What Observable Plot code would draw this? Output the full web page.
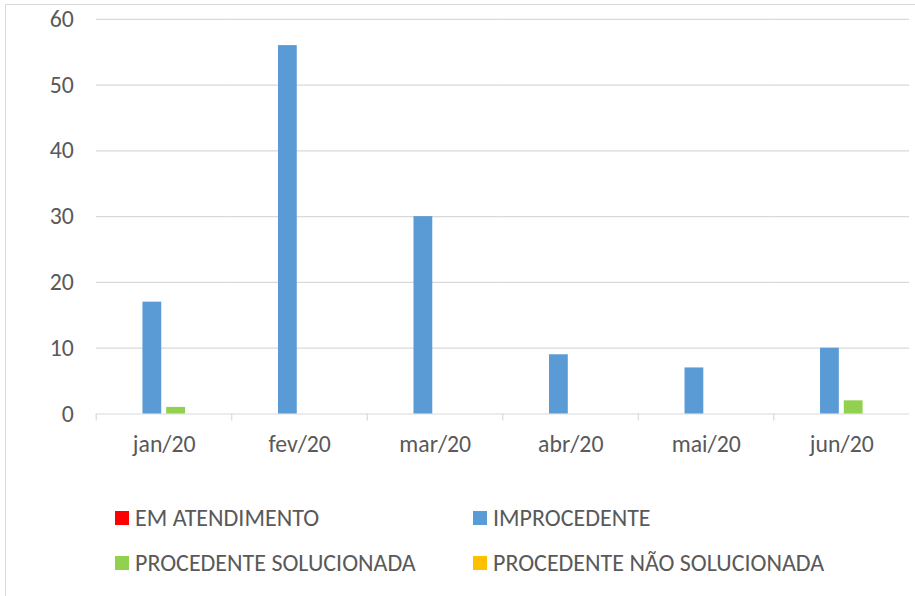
<!DOCTYPE html>
<html>
<head>
<meta charset="utf-8">
<script src="https://cdn.jsdelivr.net/npm/d3@7"></script>
<script src="https://cdn.jsdelivr.net/npm/@observablehq/plot@0.6"></script>
<style>
  html, body { margin: 0; padding: 0; background: #fff; overflow: hidden; width: 915px; height: 596px; }
  body { position: relative; font-family: Carlito, "Liberation Sans Narrow", sans-serif; }
  #frame { position: absolute; left: 5px; top: 4px; width: 1000px; height: 700px; border: 1px solid #d9d9d9; }
  #chart { position: absolute; left: 0; top: 0; }
  .leg { position: absolute; display: flex; align-items: center; font-size: 24px; color: #595959; white-space: nowrap; line-height: 1; }
  .sw { width: 14px; height: 14px; margin-right: 6px; flex: none; }
</style>
</head>
<body>
<div id="frame"></div>
<div id="chart"></div>
<div id="legend"></div>
<script>
const months = ["jan/20", "fev/20", "mar/20", "abr/20", "mai/20", "jun/20"];
const seriesNames = ["EM ATENDIMENTO", "IMPROCEDENTE", "PROCEDENTE SOLUCIONADA", "PROCEDENTE NÃO SOLUCIONADA"];
const seriesColors = ["#FF0000", "#5B9BD5", "#92D050", "#FFC000"];
const emAtendimento = [0, 0, 0, 0, 0, 0];
const improcedente = [17, 56, 30, 9, 7, 10];
const procedenteSolucionada = [1, 0, 0, 0, 0, 2];
const procedenteNaoSolucionada = [0, 0, 0, 0, 0, 0];
const yTicks = [0, 10, 20, 30, 40, 50, 60];

const seriesValues = [emAtendimento, improcedente, procedenteSolucionada, procedenteNaoSolucionada];
const rows = [];
months.forEach((m, i) => {
  seriesNames.forEach((s, j) => rows.push({month: m, series: s, value: seriesValues[j][i]}));
});

const font = "Carlito, 'Liberation Sans Narrow', sans-serif";
const grid = "#d9d9d9";
const textColor = "#595959";

const chart = Plot.plot({
  width: 925,
  height: 475,
  marginLeft: 95,
  marginRight: 5,
  marginTop: 19,
  marginBottom: 57,
  style: {fontFamily: font, fontSize: "24px", color: textColor, background: "transparent", overflow: "visible"},
  fx: {domain: months, padding: 0, label: null},
  x: {domain: seriesNames, paddingInner: 0.216, paddingOuter: 0.86, axis: null},
  y: {domain: [0, 60], label: null},
  color: {domain: seriesNames, range: seriesColors},
  marks: [
    Plot.ruleY(yTicks, {stroke: grid, strokeWidth: 1.2}),
    Plot.axisY({ticks: yTicks, tickSize: 0, tickPadding: 23, label: null, fill: textColor, fontSize: 24, fontFamily: font}),
    Plot.axisFx({anchor: "bottom", tickSize: 0, tickPadding: 21, label: null, fill: textColor, fontSize: 24, fontFamily: font}),
    Plot.axisFx({anchor: "bottom", tickSize: 7, tickFormat: () => "", label: null, stroke: grid, strokeWidth: 1.2, dx: -68.75}),
    Plot.barY(rows, {fx: "month", x: "series", y: "value", fill: "series"})
  ]
});
document.getElementById("chart").appendChild(chart);

const legendPos = [[115, 518], [473, 518], [115, 563], [473, 563]];
const legend = document.getElementById("legend");
seriesNames.forEach((s, j) => {
  const d = document.createElement("div");
  d.className = "leg";
  d.style.left = legendPos[j][0] + "px";
  d.style.top = (legendPos[j][1] - 12) + "px";
  d.style.height = "24px";
  const sw = document.createElement("span");
  sw.className = "sw";
  sw.style.background = seriesColors[j];
  const t = document.createElement("span");
  t.textContent = s;
  d.appendChild(sw);
  d.appendChild(t);
  legend.appendChild(d);
});
</script>
</body>
</html>
